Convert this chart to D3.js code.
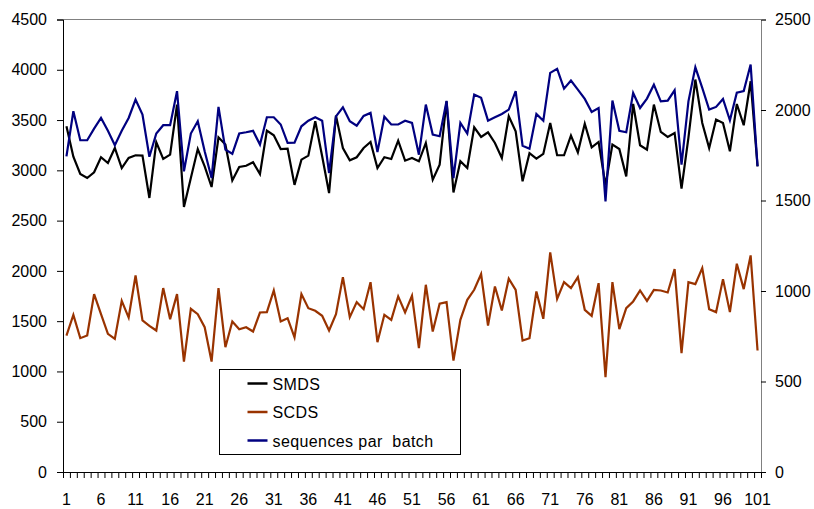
<!DOCTYPE html>
<html>
<head>
<meta charset="utf-8">
<script src="https://cdn.jsdelivr.net/npm/d3@7"></script>
<style>
    body { margin: 0; background: #fff; }
    text { font-family: "Liberation Sans", Arial, sans-serif; }
</style>
</head>
<body>
<div id="chart"></div>
<script>
    // batch numbers 1..101
    var batches = d3.range(1, 102);

    // left axis
    var smds = [
        3438, 3135, 2964, 2924, 2981, 3130, 3073, 3222, 3023, 3123,
        3150, 3146, 2725, 3279, 3113, 3156, 3654, 2635, 2924, 3212,
        3040, 2834, 3328, 3256, 2900, 3033, 3046, 3080, 2964, 3395,
        3348, 3212, 3215, 2855, 3106, 3146, 3488, 3140, 2774, 3544,
        3222, 3100, 3130, 3222, 3282, 3023, 3130, 3113, 3295, 3096,
        3123, 3090, 3272, 2907, 3056, 3687, 2780, 3090, 3023, 3428,
        3332, 3378, 3272, 3123, 3538, 3388, 2891, 3170, 3116, 3163,
        3471, 3150, 3150, 3345, 3179, 3464, 3229, 3282, 2850, 3256,
        3212, 2940, 3660, 3249, 3206, 3654, 3382, 3332, 3372, 2818,
        3325, 3903, 3471, 3222, 3505, 3471, 3189, 3660, 3448, 3886,
        3040
    ];

    var scds = [
        1357, 1563, 1331, 1357, 1769, 1570, 1374, 1324, 1702, 1536,
        1954, 1507, 1454, 1407, 1829, 1520, 1769, 1098, 1623, 1570,
        1440, 1098, 1829, 1241, 1497, 1420, 1440, 1397, 1586, 1590,
        1805, 1497, 1530, 1340, 1769, 1629, 1603, 1553, 1407, 1570,
        1938, 1540, 1689, 1619, 1888, 1291, 1563, 1513, 1746, 1586,
        1752, 1231, 1862, 1397, 1673, 1689, 1108, 1513, 1712, 1812,
        1968, 1457, 1845, 1606, 1922, 1812, 1307, 1330, 1795, 1523,
        2184, 1722, 1888, 1829, 1938, 1613, 1553, 1878, 942, 1888,
        1420, 1629, 1696, 1805, 1702, 1812, 1805, 1785, 2018, 1181,
        1888, 1868, 2028, 1619, 1590, 1918, 1590, 2071, 1819, 2154,
        1208
    ];

    // right axis
    var seqPerBatch = [
        1744, 1993, 1833, 1833, 1897, 1956, 1885, 1805, 1885, 1956,
        2058, 1975, 1742, 1870, 1916, 1916, 2104, 1661, 1870, 1938,
        1772, 1624, 2017, 1781, 1758, 1870, 1877, 1885, 1809, 1960,
        1960, 1920, 1818, 1820, 1910, 1941, 1960, 1941, 1652, 1965,
        2015, 1938, 1913, 1967, 1984, 1768, 1963, 1920, 1920, 1941,
        1929, 1753, 2030, 1864, 1855, 2050, 1624, 1929, 1870, 2085,
        2067, 1941, 1960, 1978, 2002, 2104, 1803, 1786, 1978, 1941,
        2205, 2227, 2118, 2163, 2113, 2061, 1989, 2011, 1495, 2052,
        1885, 1877, 2094, 2011, 2063, 2140, 2048, 2052, 2109, 1698,
        2048, 2236, 2122, 2002, 2017, 2061, 1943, 2096, 2105, 2251,
        1689
    ];

    var leftTicks = d3.range(0, 4501, 500);
    var rightTicks = d3.range(0, 2501, 500);
    var seriesNames = ["SMDS", "SCDS", "sequences par  batch"];
    var seriesColors = ["#000000", "#993300", "#000080"];

    var width = 814, height = 509;
    var plotLeft = 63, plotRight = 761, plotTop = 19.5, plotBottom = 472;
    var FONT = "Liberation Sans, Arial, sans-serif";

    var svg = d3.select("#chart").append("svg")
        .attr("width", width)
        .attr("height", height);

    svg.append("rect")
        .attr("width", width)
        .attr("height", height)
        .attr("fill", "#fff");

    var x = d3.scaleBand()
        .domain(batches)
        .range([plotLeft, plotRight])
        .padding(0);

    // used only for the tick marks between categories
    var xEdges = d3.scaleLinear()
        .domain([0, batches.length])
        .range([plotLeft, plotRight]);

    var yLeft = d3.scaleLinear().domain([0, 4500]).range([plotBottom, plotTop]);
    var yRight = d3.scaleLinear().domain([0, 2500]).range([plotBottom, plotTop]);

    // plot area border on top
    svg.append("line")
        .attr("x1", plotLeft).attr("x2", plotRight)
        .attr("y1", plotTop).attr("y2", plotTop)
        .attr("stroke", "#808080");

    function styleText(g) {
        g.selectAll("text")
            .attr("font-size", 16)
            .attr("font-family", FONT)
            .attr("fill", "#000");
    }

    // x axis: tick marks
    svg.append("g")
        .attr("transform", "translate(0," + plotBottom + ")")
        .call(d3.axisBottom(xEdges)
            .tickValues(d3.range(0, batches.length + 1))
            .tickSize(6)
            .tickFormat(""))
        .call(g => g.selectAll("line, .domain").attr("stroke", "#000"));

    // x axis: labels every 5 batches
    svg.append("g")
        .attr("transform", "translate(0," + plotBottom + ")")
        .call(d3.axisBottom(x)
            .tickValues(batches.filter(d => (d - 1) % 5 === 0))
            .tickSize(0)
            .tickPadding(22))
        .call(g => g.select(".domain").remove())
        .call(styleText);

    // left axis
    svg.append("g")
        .attr("transform", "translate(" + plotLeft + ",0)")
        .call(d3.axisLeft(yLeft)
            .tickValues(leftTicks)
            .tickFormat(d3.format("d"))
            .tickSize(6)
            .tickPadding(10))
        .call(g => g.selectAll("line, .domain").attr("stroke", "#000"))
        .call(styleText);

    // right axis
    svg.append("g")
        .attr("transform", "translate(" + plotRight + ",0)")
        .call(d3.axisRight(yRight)
            .tickValues(rightTicks)
            .tickFormat(d3.format("d"))
            .tickSize(5)
            .tickPadding(9))
        .call(g => g.select(".domain").attr("stroke", "#808080"))
        .call(styleText);

    var cx = d => x(d) + x.bandwidth() / 2;

    function drawLine(values, yScale, color) {
        var line = d3.line()
            .x((d, i) => cx(batches[i]))
            .y(d => yScale(d));
        svg.append("path")
            .datum(values)
            .attr("fill", "none")
            .attr("stroke", color)
            .attr("stroke-width", 2.2)
            .attr("d", line);
    }

    drawLine(scds, yLeft, seriesColors[1]);
    drawLine(smds, yLeft, seriesColors[0]);
    drawLine(seqPerBatch, yRight, seriesColors[2]);

    // legend
    var legend = svg.append("g").attr("transform", "translate(219.5,369.5)");
    legend.append("rect")
        .attr("width", 241)
        .attr("height", 85)
        .attr("fill", "#fff")
        .attr("stroke", "#000");

    var item = legend.selectAll("g.item")
        .data(seriesNames)
        .enter().append("g")
        .attr("class", "item")
        .attr("transform", (d, i) => "translate(0," + (14 + i * 28.5) + ")");

    item.append("line")
        .attr("x1", 28).attr("x2", 48)
        .attr("stroke", (d, i) => seriesColors[i])
        .attr("stroke-width", 2.5);

    item.append("text")
        .attr("x", 53)
        .attr("y", 6)
        .attr("font-size", 16)
        .attr("font-family", FONT)
        .attr("letter-spacing", 0.4)
        .style("white-space", "pre")
        .attr("fill", "#000")
        .text(d => d);
</script>
</body>
</html>
